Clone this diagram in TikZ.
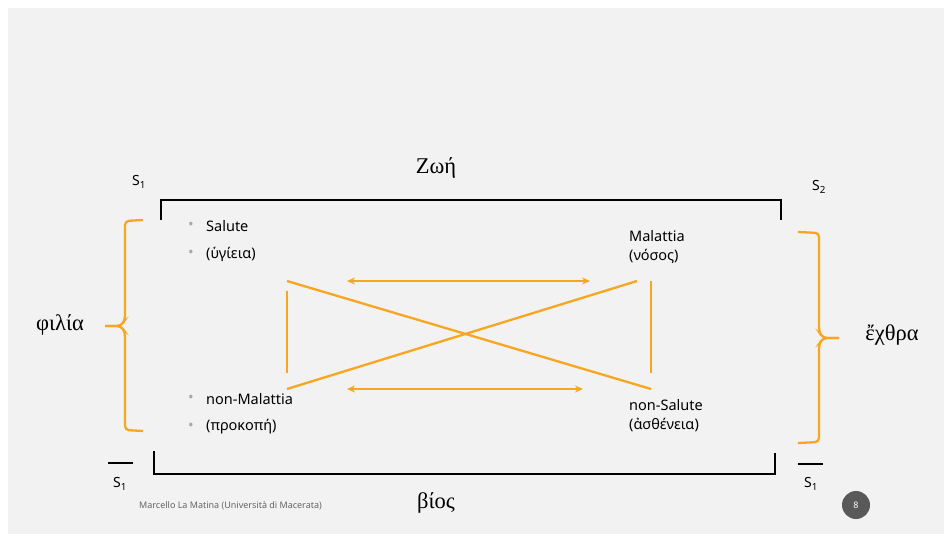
\documentclass[tikz,border=0pt]{standalone}
\usepackage{fontspec}
\setmainfont{Noto Sans}
\newfontfamily\grserif{Liberation Serif}
\usetikzlibrary{arrows.meta}
\definecolor{slidebg}{RGB}{242,242,242}
\definecolor{orng}{RGB}{248,166,32}
\definecolor{bulletgrey}{RGB}{160,170,175}
\definecolor{footgrey}{RGB}{100,100,100}
\definecolor{pagegrey}{RGB}{89,89,89}
\tikzset{
  lbl/.style={anchor=west,inner sep=0pt,font=\fontsize{14.5}{17}\selectfont,text=black},
  bigword/.style={inner sep=0pt,font=\grserif\fontsize{22.5}{26}\selectfont,text=black},
  sname/.style={inner sep=0pt,font=\fontsize{14}{16}\selectfont,text=black},
  bul/.style={inner sep=0pt,font=\fontsize{15}{17}\selectfont,text=bulletgrey},
  blk/.style={line width=2.4pt,black},
  org/.style={line width=2.3pt,orng},
  dbl/.style={org,{Stealth[length=8pt,width=7pt]}-{Stealth[length=8pt,width=7pt]}},
  brace/.style={line width=2.3pt,orng,rounded corners=4pt}
}
\begin{document}
\begin{tikzpicture}[x=1pt,y=-1pt]
\useasboundingbox (0,0) rectangle (944,534);
\fill[white] (0,0) rectangle (944,534);
\fill[slidebg] (8,8) rectangle (944,534);

% top bracket
\coordinate (t1) at (161,220);
\coordinate (t2) at (161,200);
\coordinate (t3) at (781,200);
\coordinate (t4) at (781,220);
\draw[blk] (t1) -- (t2) -- (t3) -- (t4);
% bottom bracket
\coordinate (b1) at (154,451);
\coordinate (b2) at (154,474);
\coordinate (b3) at (775,474);
\coordinate (b4) at (775,453);
\draw[blk] (b1) -- (b2) -- (b3) -- (b4);

\node[bigword] (zoe) at (436,168) {Zωή};
\node[bigword] (bios) at (436,503) {βίος};

\node[sname] (s1a) at (139,182) {S\textsubscript{1}};
\node[sname] (s2) at (819,187) {S\textsubscript{2}};
\node[sname] (s1b) at (120,484) {S\textsubscript{1}};
\node[sname] (s1c) at (811,484) {S\textsubscript{1}};
\draw[line width=1.8pt] (108,463) -- (133,463);
\draw[line width=1.8pt] (798,464) -- (823,464);

% braces
\draw[brace] (143,220) -- (125,221) -- (125,320) -- (121,326) -- (105,326);
\draw[brace] (105,326) -- (121,326) -- (125,332) -- (125,430) -- (143,431);
\draw[brace] (798,232) -- (819,233) -- (819,332) -- (823,338) -- (839,338);
\draw[brace] (839,338) -- (823,338) -- (819,344) -- (819,442) -- (798,443);

\node[bigword] (filia) at (60,325) {φιλία};
\node[bigword] (echthra) at (892,335) {ἔχθρα};

% labels
\node[bul] (bu1) at (191,226) {•};
\node[bul] (bu2) at (191,254) {•};
\node[bul] (bu3) at (191,399) {•};
\node[bul] (bu4) at (191,427) {•};
\node[lbl] (sal) at (206,226) {Salute};
\node[lbl] (hyg) at (206,254) {(ὑγίεια)};
\node[lbl] (nmal) at (206,399) {non-Malattia};
\node[lbl] (prok) at (206,427) {(προκοπή)};
\node[lbl] (mal) at (629,236) {Malattia};
\node[lbl] (nos) at (629,256) {(νόσος)};
\node[lbl] (nsal) at (629,405) {non-Salute};
\node[lbl] (asth) at (629,425) {(ἀσθένεια)};

% square of opposition
\coordinate (a1) at (347,281);
\coordinate (a2) at (590,281);
\coordinate (a3) at (347,389);
\coordinate (a4) at (583,389);
\draw[dbl] (a1) -- (a2);
\draw[dbl] (a3) -- (a4);
\coordinate (v1) at (287,291);
\coordinate (v2) at (287,373);
\coordinate (v3) at (651,281);
\coordinate (v4) at (651,373);
\draw[org] (v1) -- (v2);
\draw[org] (v3) -- (v4);
\coordinate (d1) at (287,281);
\coordinate (d2) at (651,389);
\coordinate (d3) at (287,389);
\coordinate (d4) at (637,281);
\draw[org] (d1) -- (d2);
\draw[org] (d3) -- (d4);

% footer
\node[anchor=west,inner sep=0pt,font=\fontsize{9}{10}\selectfont,text=footgrey] (foot) at (139,506) {Marcello La Matina (Università di Macerata)};
\node[circle,fill=pagegrey,minimum size=28pt,inner sep=0pt,font=\fontsize{9}{10}\selectfont,text=white] (page) at (856,505) {8};
\end{tikzpicture}
\end{document}
